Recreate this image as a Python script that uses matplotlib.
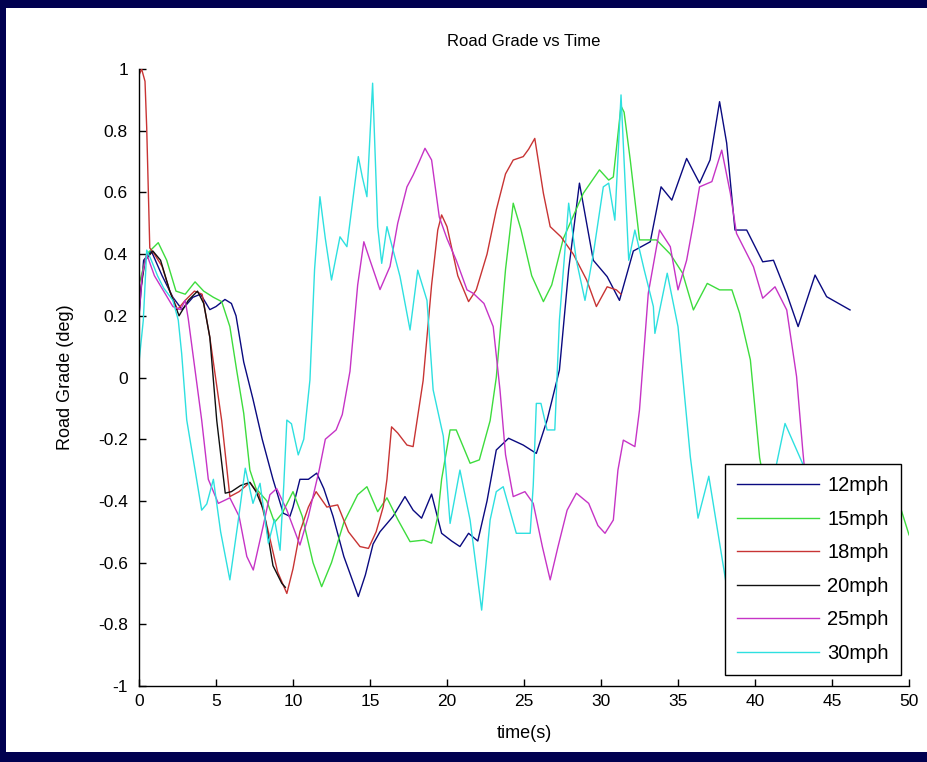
"""
Road grade vs time, one trace per test speed
"""

import matplotlib

matplotlib.use("Agg")
import matplotlib.patches as mpatches
import matplotlib.pyplot as plt

# ---- data (time in s, grade in deg) ----
t_12 = [0, 0.3, 0.8, 1.5, 2.2, 2.8, 3.5, 4.0, 4.6, 5.0, 5.58, 6.0, 6.3, 6.8, 7.4, 8.0, 8.7,
        9.37, 9.8, 10.0, 10.45, 11.0, 11.54, 12.0, 12.6, 13.3, 14.24, 14.7, 15.2, 15.65, 16.5,
        17.27, 17.8, 18.35, 19.0, 19.65, 20.3, 20.84, 21.4, 22.0, 22.6, 23.2, 24.0, 24.95,
        25.8, 26.5, 27.3, 27.9, 28.6, 29.5, 30.4, 31.2, 32.1, 33.2, 33.9, 34.6, 35.56, 36.4,
        37.08, 37.7, 38.16, 38.7, 39.46, 40.5, 41.2, 42.05, 42.8, 43.9, 44.65, 46.17]
g_12 = [0.2, 0.38, 0.41, 0.33, 0.26, 0.22, 0.26, 0.27, 0.22, 0.23, 0.253, 0.24, 0.2, 0.05,
        -0.07, -0.2, -0.33, -0.44, -0.45, -0.42, -0.33, -0.33, -0.31, -0.36, -0.45, -0.58,
        -0.71, -0.64, -0.54, -0.5, -0.45, -0.386, -0.43, -0.456, -0.378, -0.505, -0.53, -0.548,
        -0.505, -0.53, -0.4, -0.235, -0.197, -0.219, -0.246, -0.138, 0.024, 0.35, 0.63, 0.38,
        0.327, 0.25, 0.41, 0.44, 0.618, 0.575, 0.71, 0.63, 0.705, 0.894, 0.76, 0.478, 0.478,
        0.375, 0.38, 0.273, 0.165, 0.332, 0.262, 0.219]

t_15 = [0, 0.5, 1.25, 1.8, 2.4, 3.0, 3.64, 4.2, 4.83, 5.37, 5.9, 6.34, 6.8, 7.2, 7.6, 8.3,
        8.8, 9.3, 10.0, 10.6, 11.3, 11.86, 12.5, 13.3, 14.2, 14.8, 15.5, 16.1, 16.8, 17.6,
        18.5, 19.0, 19.4, 19.65, 20.2, 20.6, 21.5, 22.1, 22.8, 23.2, 23.8, 24.3, 24.8, 25.5,
        26.26, 26.8, 27.55, 28.85, 29.9, 30.5, 30.8, 31.3, 31.5, 31.9, 32.5, 33.6, 34.5,
        35.3, 36.0, 36.9, 37.7, 38.5, 39.0, 39.7, 40.3, 41.0, 42.0, 44.0, 46.0, 48.0, 49.0,
        49.5, 50.0]
g_15 = [0.3, 0.4, 0.437, 0.38, 0.28, 0.27, 0.31, 0.28, 0.26, 0.246, 0.165, 0.024, -0.116,
        -0.3, -0.36, -0.4, -0.47, -0.44, -0.37, -0.45, -0.6, -0.678, -0.6, -0.47, -0.38,
        -0.354, -0.435, -0.39, -0.46, -0.532, -0.527, -0.537, -0.45, -0.33, -0.17, -0.17,
        -0.278, -0.267, -0.14, 0.0, 0.35, 0.565, 0.48, 0.33, 0.246, 0.3, 0.45, 0.597, 0.673,
        0.64, 0.65, 0.88, 0.86, 0.705, 0.446, 0.446, 0.4, 0.338, 0.219, 0.305, 0.284, 0.284,
        0.208, 0.057, -0.26, -0.45, -0.55, -0.6, -0.55, -0.5, -0.42, -0.43, -0.51]

t_18 = [0, 0.17, 0.39, 0.5, 0.7, 1.0, 1.5, 2.0, 2.5, 3.0, 3.6, 4.1, 4.6, 5.37, 5.9, 6.5,
        7.2, 7.8, 8.4, 9.0, 9.6, 10.0, 10.45, 11.0, 11.5, 12.2, 12.9, 13.6, 14.35, 14.9,
        15.4, 15.86, 16.1, 16.4, 16.8, 17.4, 17.8, 18.45, 19.0, 19.4, 19.65, 20.0, 20.7,
        21.4, 21.9, 22.6, 23.2, 23.8, 24.3, 24.95, 25.3, 25.7, 26.26, 26.7, 27.4, 28.2,
        29.07, 29.7, 30.4, 31.0, 31.3]
g_18 = [0.98, 1.0, 0.96, 0.81, 0.42, 0.4, 0.36, 0.28, 0.22, 0.25, 0.28, 0.27, 0.13, -0.14,
        -0.386, -0.37, -0.34, -0.38, -0.5, -0.63, -0.7, -0.62, -0.5, -0.42, -0.37, -0.42,
        -0.413, -0.5, -0.548, -0.554, -0.5, -0.419, -0.33, -0.16, -0.18, -0.219, -0.224,
        -0.01, 0.3, 0.478, 0.527, 0.489, 0.33, 0.246, 0.284, 0.4, 0.543, 0.66, 0.705, 0.716,
        0.74, 0.775, 0.597, 0.489, 0.456, 0.4, 0.316, 0.23, 0.294, 0.284, 0.27]

t_20 = [0, 0.4, 0.9, 1.4, 2.0, 2.6, 3.2, 3.8, 4.2, 4.6, 5.05, 5.6, 6.0, 6.6, 7.2, 7.6, 8.1,
        8.7, 9.27, 9.5]
g_20 = [0.25, 0.38, 0.41, 0.38, 0.28, 0.2, 0.25, 0.28, 0.24, 0.13, -0.14, -0.375, -0.37,
        -0.35, -0.34, -0.37, -0.43, -0.61, -0.667, -0.68]

t_25 = [0, 0.2, 0.5, 1.0, 1.6, 2.2, 2.7, 3.0, 3.2, 3.64, 4.07, 4.5, 5.15, 5.9, 6.5, 7.0,
        7.42, 8.07, 8.5, 8.94, 9.6, 10.45, 11.0, 11.7, 12.1, 12.8, 13.2, 13.7, 14.2, 14.6,
        15.0, 15.65, 16.3, 16.8, 17.4, 17.8, 18.2, 18.57, 19.0, 19.5, 20.0, 20.6, 21.3,
        21.7, 22.4, 23.0, 23.44, 23.8, 24.3, 25.06, 25.6, 26.2, 26.7, 27.2, 27.8, 28.4,
        29.2, 29.8, 30.26, 30.8, 31.1, 31.45, 32.2, 32.5, 33.07, 33.8, 34.5, 35.0, 35.56,
        36.0, 36.4, 37.2, 37.84, 38.4, 38.8, 39.9, 40.5, 41.3, 42.06, 42.7, 43.1, 43.5, 44.0]
g_25 = [0.2, 0.33, 0.4, 0.33, 0.28, 0.23, 0.22, 0.25, 0.19, 0.024, -0.138, -0.33, -0.408,
        -0.39, -0.45, -0.58, -0.624, -0.48, -0.38, -0.36, -0.43, -0.543, -0.45, -0.3, -0.2,
        -0.17, -0.12, 0.02, 0.3, 0.44, 0.38, 0.285, 0.36, 0.5, 0.618, 0.656, 0.7, 0.743,
        0.705, 0.52, 0.45, 0.38, 0.284, 0.273, 0.24, 0.165, -0.04, -0.25, -0.386, -0.37,
        -0.408, -0.55, -0.656, -0.55, -0.43, -0.375, -0.408, -0.48, -0.505, -0.462, -0.3,
        -0.203, -0.224, -0.105, 0.273, 0.478, 0.424, 0.284, 0.38, 0.5, 0.618, 0.635, 0.737,
        0.597, 0.467, 0.359, 0.257, 0.294, 0.219, 0.003, -0.235, -0.45, -0.6]

t_30 = [0, 0.28, 0.5, 0.8, 1.2, 1.6, 2.2, 2.55, 2.77, 3.1, 3.64, 4.07, 4.4, 4.83, 5.3, 5.9,
        6.4, 6.9, 7.4, 7.86, 8.4, 8.8, 9.16, 9.4, 9.6, 9.9, 10.34, 10.7, 11.1, 11.4, 11.75,
        12.1, 12.5, 13.05, 13.5, 14.24, 14.5, 14.8, 15.17, 15.5, 15.76, 16.1, 16.5, 16.95,
        17.6, 18.1, 18.7, 19.1, 19.76, 20.2, 20.84, 21.5, 22.25, 22.8, 23.2, 23.65, 24.5,
        25.4, 25.6, 25.8, 26.1, 26.5, 27.0, 27.3, 27.9, 28.4, 28.96, 29.5, 30.15, 30.5,
        30.9, 31.3, 31.8, 32.2, 32.8, 33.4, 33.5, 34.3, 35.0, 35.8, 36.3, 37.0, 38.16,
        39.0, 40.0, 41.0, 41.4, 41.95, 43.1, 43.6, 44.0]
g_30 = [0.05, 0.186, 0.413, 0.38, 0.33, 0.29, 0.25, 0.186, 0.078, -0.138, -0.3, -0.43,
        -0.41, -0.33, -0.5, -0.656, -0.48, -0.294, -0.408, -0.343, -0.537, -0.46, -0.56,
        -0.35, -0.138, -0.15, -0.251, -0.2, -0.008, 0.35, 0.586, 0.45, 0.316, 0.456, 0.424,
        0.716, 0.65, 0.586, 0.954, 0.489, 0.37, 0.489, 0.413, 0.327, 0.154, 0.348, 0.25,
        -0.04, -0.19, -0.473, -0.3, -0.462, -0.754, -0.462, -0.37, -0.354, -0.505, -0.505,
        -0.35, -0.084, -0.084, -0.17, -0.17, 0.186, 0.565, 0.38, 0.25, 0.4, 0.618, 0.63,
        0.51, 0.916, 0.38, 0.478, 0.35, 0.23, 0.143, 0.338, 0.165, -0.257, -0.456, -0.32,
        -0.678, -0.8, -0.7, -0.4, -0.28, -0.149, -0.28, -0.45, -0.55]

labels = ["12mph", "15mph", "18mph", "20mph", "25mph", "30mph"]
colors = ["#0a0a80", "#3ddc3d", "#c83434", "#101010", "#c634c6", "#2ee0e0"]
x_ticks = [0, 5, 10, 15, 20, 25, 30, 35, 40, 45, 50]
y_ticks = [-1, -0.8, -0.6, -0.4, -0.2, 0, 0.2, 0.4, 0.6, 0.8, 1]
y_tick_labels = ["-1", "-0.8", "-0.6", "-0.4", "-0.2", "0", "0.2", "0.4", "0.6", "0.8", "1"]

series = [(t_12, g_12), (t_15, g_15), (t_18, g_18), (t_20, g_20), (t_25, g_25), (t_30, g_30)]

plt.rcParams["font.family"] = ["Liberation Sans", "DejaVu Sans"]
plt.rcParams["axes.unicode_minus"] = False

fig = plt.figure(figsize=(9.28, 7.62), dpi=100)
fig.patch.set_facecolor("#000050")
# white canvas inside the navy frame (drawn below the axes)
canvas = mpatches.Rectangle((6 / 928, 10 / 762), 922 / 928, 744 / 762,
                            transform=fig.transFigure, facecolor="white",
                            edgecolor="none", zorder=-10)
fig.add_artist(canvas)

ax = fig.add_axes([139 / 928, 76 / 762, 770 / 928, 617 / 762])
ax.set_zorder(1)
ax.set_facecolor("white")

for (t, g), lab, col in zip(series, labels, colors):
    ax.plot(t, g, color=col, linewidth=1.0, label=lab)

ax.set_xlim(0, 50)
ax.set_ylim(-1, 1)
ax.set_xticks(x_ticks)
ax.set_xticklabels([str(v) for v in x_ticks])
ax.set_yticks(y_ticks)
ax.set_yticklabels(y_tick_labels)
ax.tick_params(direction="in", length=5, width=1, labelsize=12.5, pad=6, colors="black")
ax.tick_params(axis="y", pad=8)

ax.spines["top"].set_visible(False)
ax.spines["right"].set_visible(False)
for side in ["left", "bottom"]:
    ax.spines[side].set_linewidth(1.0)

ax.set_title("Road Grade vs Time", fontsize=12, y=1 + 27 / 617, pad=0, va="center")
ax.set_xlabel("time(s)", fontsize=13)
ax.xaxis.set_label_coords(0.5, -47 / 617)
ax.xaxis.label.set_va("center")
ax.set_ylabel("Road Grade (deg)", fontsize=13)
ax.yaxis.set_label_coords(-73 / 770, 0.5)
ax.yaxis.label.set_va("center")

leg = ax.legend(loc="lower right", bbox_to_anchor=((901 - 139) / 770, (686 - 675) / 617),
                borderaxespad=0, fontsize=14.5, fancybox=False, framealpha=1,
                edgecolor="black", handlelength=4.1, handletextpad=0.4, labelspacing=0.72,
                borderpad=0.6)
leg.get_frame().set_linewidth(1.0)

fig.savefig("out.png", dpi=100, facecolor=fig.get_facecolor())
plt.close(fig)
